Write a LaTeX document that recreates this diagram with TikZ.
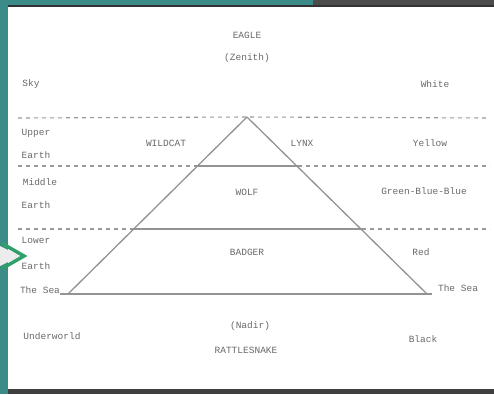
\documentclass[tikz,border=0pt]{standalone}
\usepackage{fontspec}
\newfontfamily\typew{Liberation Mono}
\definecolor{tealbg}{HTML}{3B8C89}
\definecolor{chev}{HTML}{2FA06A}
\definecolor{ink}{HTML}{6A6A6A}
\begin{document}
\begin{tikzpicture}[x=1pt,y=-1pt,
  lbl/.style={font=\fontsize{9.5}{11}\selectfont\typew, text=ink, inner sep=0pt},
  solidln/.style={draw=gray!85, line width=1.3pt},
  dashln/.style={draw=gray!80, line width=1.1pt, dash pattern=on 4pt off 4pt}]
\useasboundingbox (0,0) rectangle (494,394);
% background frame
\fill[tealbg] (0,0) rectangle (494,394);
\fill[white] (8,6) rectangle (494,390);
\fill[gray!60!black] (313,0) rectangle (494,6);
\fill[black!80] (8,4.5) rectangle (494,6.5);
\fill[gray!50!black] (8,389) rectangle (494,394);
% chevron
\fill[gray!15] (0,246) -- (20,256) -- (0,266) -- cycle;
\draw[chev, line width=3.5pt, line cap=round, line join=miter] (3,244) -- (24,256) -- (3,268);
% triangle coordinates
\coordinate (apex) at (247,117);
\coordinate (bl) at (68,294);
\coordinate (br) at (427,294);
\coordinate (l1a) at (196,166); \coordinate (l1b) at (298,166);
\coordinate (l2a) at (133,229); \coordinate (l2b) at (362,229);
% dashed guide lines
\coordinate (d0l) at (18,118); \coordinate (d0r) at (490,118);
\coordinate (d1l) at (18,166); \coordinate (d1r) at (490,166);
\coordinate (d2l) at (18,229); \coordinate (d2r) at (490,229);
\coordinate (s0l) at (60,294); \coordinate (s0r) at (432,294);
\draw[dashln] (d0l) -- (apex) -- (d0r);
\draw[dashln] (d1l) -- (l1a);
\draw[dashln] (l1b) -- (d1r);
\draw[dashln] (d2l) -- (l2a);
\draw[dashln] (l2b) -- (d2r);
% triangle and bands
\draw[solidln, line join=round] (bl) -- (apex) -- (br);
\draw[solidln] (l1a) -- (l1b);
\draw[solidln] (l2a) -- (l2b);
\draw[solidln] (s0l) -- (bl) -- (br) -- (s0r);
% labels
\node[lbl] (eagle) at (247,35) {EAGLE};
\node[lbl] (zenith) at (247,58) {(Zenith)};
\node[lbl] (sky) at (31,84) {Sky};
\node[lbl] (white) at (435,84) {White};
\node[lbl] (up1) at (36,133) {Upper};
\node[lbl] (up2) at (36,155) {Earth};
\node[lbl] (mid1) at (40,182) {Middle};
\node[lbl] (mid2) at (36,205) {Earth};
\node[lbl] (lo1) at (36,240) {Lower};
\node[lbl] (lo2) at (36,266) {Earth};
\node[lbl] (wildcat) at (166,143) {WILDCAT};
\node[lbl] (lynx) at (302,143) {LYNX};
\node[lbl] (yellow) at (430,143) {Yellow};
\node[lbl] (wolf) at (247,192) {WOLF};
\node[lbl] (gbb) at (424,191) {Green-Blue-Blue};
\node[lbl] (badger) at (247,252) {BADGER};
\node[lbl] (red) at (421,252) {Red};
\node[lbl] (seal) at (40,290) {The Sea};
\node[lbl] (sear) at (458,288) {The Sea};
\node[lbl] (under) at (52,336) {Underworld};
\node[lbl] (nadir) at (250,326) {(Nadir)};
\node[lbl] (rattle) at (246,350) {RATTLESNAKE};
\node[lbl] (black) at (423,339) {Black};
\end{tikzpicture}
\end{document}
